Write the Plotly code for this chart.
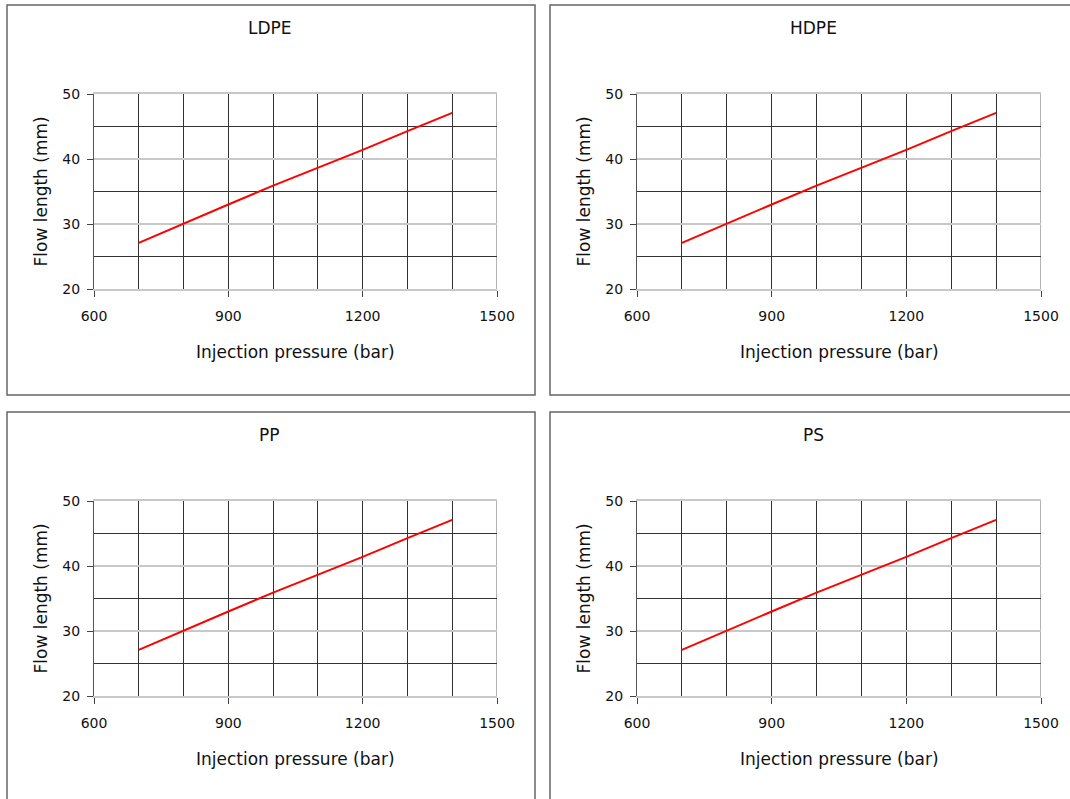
import plotly.graph_objects as go

W, H = 1070, 799

materials = ["LDPE", "HDPE", "PP", "PS"]
pressure_bar = [700, 800, 900, 1000, 1100, 1200, 1300, 1400]
flow_length_mm = [27.1, 30.1, 33.0, 35.9, 38.6, 41.4, 44.3, 47.1]
x_ticks = [600, 900, 1200, 1500]
y_ticks = [20, 30, 40, 50]
x_title = "Injection pressure (bar)"
y_title = "Flow length (mm)"

# panel geometry in pixels (left, top, right, bottom): plot areas and panel borders
plot_px = [(94, 94, 497, 289), (637, 94, 1041, 289), (94, 501, 497, 696), (637, 501, 1041, 696)]
box_px = [(7, 5, 535, 395), (550, 5, 1075, 395), (7, 412, 535, 805), (550, 412, 1075, 805)]
title_cx = [270, 813, 270, 813]

FAM = "DejaVu Sans, Verdana, sans-serif"
tick_font = dict(family=FAM, size=14, color="#111")
label_font = dict(family=FAM, size=17, color="#111")

fig = go.Figure()
shapes, annotations = [], []

def fx(p):
    return p / W

def fy(p):
    return 1 - p / H

for i, name in enumerate(materials):
    n = "" if i == 0 else str(i + 1)
    l, t, r, b = plot_px[i]
    fig.add_trace(go.Scatter(x=pressure_bar, y=flow_length_mm, mode="lines",
                             line=dict(color="#ff0000", width=2),
                             xaxis="x" + n, yaxis="y" + n, showlegend=False))
    fig.layout["xaxis" + n] = dict(
        domain=[fx(l), fx(r)], anchor="y" + n, range=[600, 1500],
        tickvals=x_ticks, ticks="outside", ticklen=6, tickcolor="#444",
        showgrid=True, gridcolor="#333", gridwidth=1,
        minor=dict(dtick=100, tick0=600, showgrid=True, gridcolor="#333", gridwidth=1, ticks=""),
        showline=True, linecolor="#c8c8c8", linewidth=1.5, mirror=True,
        zeroline=False, tickfont=tick_font, ticklabelstandoff=7, fixedrange=True, automargin=False)
    fig.layout["yaxis" + n] = dict(
        domain=[fy(b), fy(t)], anchor="x" + n, range=[20, 50],
        tickvals=y_ticks, ticks="outside", ticklen=6, tickcolor="#444",
        showgrid=True, gridcolor="#c8c8c8", gridwidth=1.5,
        minor=dict(dtick=5, tick0=20, showgrid=True, gridcolor="#333", gridwidth=1, ticks=""),
        showline=True, linecolor="#555", linewidth=1, mirror=False,
        zeroline=False, tickfont=tick_font, ticklabelstandoff=4, fixedrange=True, automargin=False)
    # darker gridline at 40 as in the reference
    shapes.append(dict(type="line", xref="x" + n + " domain", yref="y" + n,
                       x0=0, x1=1, y0=40, y1=40, line=dict(color="#333", width=1), layer="below"))
    # right edge of plot area
    shapes.append(dict(type="line", xref="x" + n, yref="y" + n + " domain",
                       x0=1500, x1=1500, y0=0, y1=1, line=dict(color="#666", width=1), layer="below"))
    # panel border
    bl, bt, br, bb = box_px[i]
    shapes.append(dict(type="rect", xref="paper", yref="paper",
                       x0=fx(bl), x1=fx(br), y0=fy(bb), y1=fy(bt),
                       line=dict(color="#666", width=1.5)))
    annotations.append(dict(text=name, xref="paper", yref="paper",
                            x=fx(title_cx[i]), y=fy(bt + 23), showarrow=False,
                            xanchor="center", yanchor="middle", font=label_font))
    annotations.append(dict(text=x_title, xref="paper", yref="paper",
                            x=fx((l + r) / 2), y=fy(b + 63), showarrow=False,
                            xanchor="center", yanchor="middle", font=label_font))
    annotations.append(dict(text=y_title, xref="paper", yref="paper",
                            x=fx(l - 54), y=fy((t + b) / 2), showarrow=False, textangle=-90,
                            xanchor="center", yanchor="middle", font=label_font))

fig.update_layout(width=W, height=H, margin=dict(l=0, r=0, t=0, b=0, pad=0, autoexpand=False),
                  paper_bgcolor="white", plot_bgcolor="white",
                  shapes=shapes, annotations=annotations, font=tick_font)

fig.write_html("out.html", config={"displayModeBar": False},
               post_script="document.body.style.margin='0';document.body.style.overflow='hidden';")
